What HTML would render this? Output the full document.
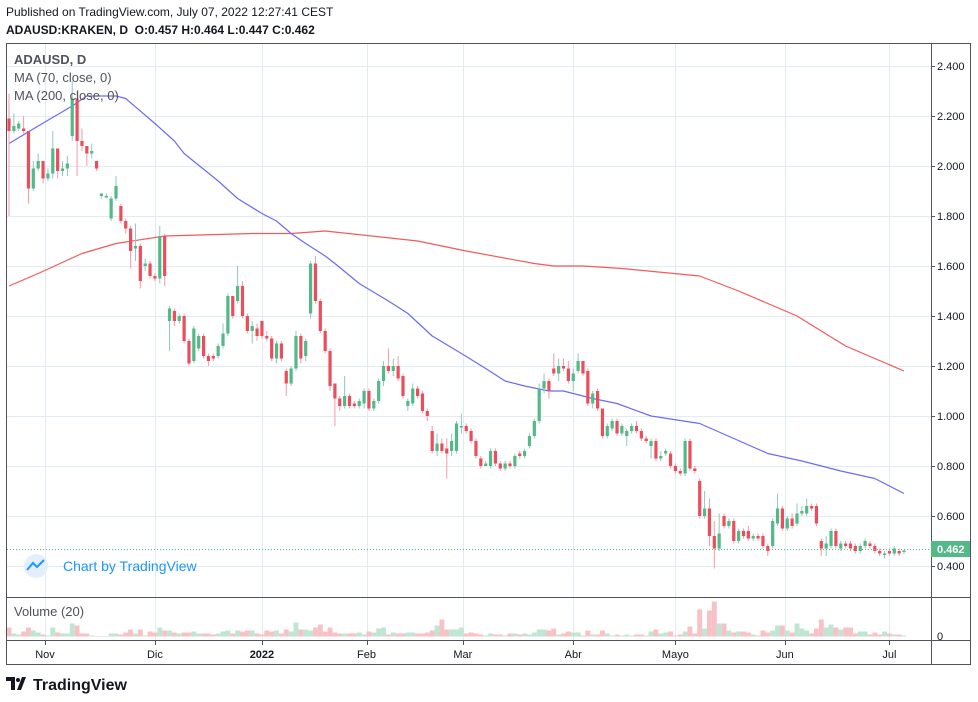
<!DOCTYPE html>
<html>
<head>
<meta charset="utf-8">
<style>
html,body{margin:0;padding:0;background:#fff;}
body{width:978px;height:702px;overflow:hidden;position:relative;font-family:"Liberation Sans",sans-serif;}
.hdr{position:absolute;left:6px;font-size:12px;color:#131722;white-space:nowrap;}
</style>
</head>
<body>
<div class="hdr" style="top:5px;">Published on TradingView.com, July 07, 2022 12:27:41 CEST</div>
<div class="hdr" style="top:23px;font-weight:bold;">ADAUSD:KRAKEN, D &nbsp;O:0.457 H:0.464 L:0.447 C:0.462</div>
<svg id="chart" width="978" height="702" style="position:absolute;left:0;top:0;" xmlns="http://www.w3.org/2000/svg"></svg>
<script>
// ---- data ----
const opens  = [2.19,2.14,2.15,2.15,2.14,1.91,1.99,2.02,1.95,1.97,2.07,1.98,1.99,2.12,2.27,2.10,2.08,2.05,2.02,1.88,1.88,1.79,1.87,1.84,1.78,1.75,1.67,1.68,1.60,1.61,1.56,1.55,1.72,1.38,1.42,1.38,1.40,1.30,1.22,1.27,1.32,1.24,1.24,1.24,1.28,1.33,1.48,1.46,1.52,1.40,1.34,1.35,1.38,1.32,1.31,1.23,1.29,1.18,1.13,1.19,1.32,1.24,1.41,1.61,1.46,1.34,1.26,1.13,1.07,1.04,1.08,1.05,1.04,1.05,1.10,1.03,1.06,1.14,1.20,1.18,1.20,1.16,1.04,1.05,1.11,1.09,1.02,0.94,0.86,0.89,0.87,0.86,0.86,0.96,0.96,0.94,0.90,0.83,0.80,0.80,0.86,0.81,0.79,0.81,0.80,0.85,0.84,0.88,0.92,0.98,1.11,1.14,1.19,1.17,1.20,1.19,1.14,1.18,1.22,1.18,1.05,1.10,1.03,0.92,0.95,0.98,0.93,0.92,0.94,0.96,0.94,0.91,0.88,0.90,0.83,0.85,0.85,0.80,0.78,0.77,0.90,0.79,0.74,0.60,0.63,0.52,0.47,0.60,0.56,0.58,0.50,0.54,0.54,0.51,0.52,0.52,0.48,0.48,0.57,0.63,0.55,0.59,0.57,0.61,0.61,0.64,0.64,0.50,0.47,0.48,0.54,0.47,0.49,0.49,0.48,0.46,0.48,0.49,0.48,0.46,0.45,0.46,0.45,0.46,0.457];
const closes = [2.14,2.16,2.17,2.14,1.91,1.99,2.02,1.95,1.97,2.07,1.98,1.99,2.01,2.27,2.10,2.08,2.05,2.06,1.99,1.89,1.88,1.87,1.92,1.78,1.75,1.66,1.68,1.54,1.61,1.56,1.55,1.72,1.56,1.43,1.38,1.40,1.30,1.21,1.35,1.32,1.24,1.22,1.23,1.28,1.33,1.48,1.40,1.52,1.40,1.34,1.36,1.32,1.32,1.31,1.23,1.29,1.23,1.13,1.19,1.32,1.23,1.30,1.61,1.46,1.34,1.26,1.12,1.07,1.04,1.08,1.04,1.04,1.06,1.10,1.03,1.06,1.14,1.20,1.18,1.20,1.15,1.08,1.06,1.11,1.08,1.02,1.00,0.86,0.89,0.86,0.85,0.90,0.97,0.96,0.94,0.90,0.84,0.80,0.81,0.86,0.81,0.79,0.81,0.80,0.84,0.84,0.86,0.92,0.98,1.11,1.14,1.10,1.17,1.20,1.19,1.14,1.17,1.22,1.17,1.05,1.09,1.03,0.92,0.96,0.98,0.93,0.96,0.94,0.96,0.94,0.91,0.90,0.90,0.83,0.84,0.86,0.80,0.78,0.77,0.90,0.79,0.78,0.60,0.63,0.52,0.47,0.53,0.56,0.58,0.50,0.54,0.52,0.51,0.52,0.51,0.48,0.46,0.58,0.63,0.55,0.59,0.56,0.61,0.62,0.64,0.63,0.57,0.47,0.49,0.54,0.48,0.49,0.48,0.47,0.46,0.48,0.50,0.48,0.46,0.45,0.45,0.45,0.47,0.45,0.462];
const highs  = [2.29,2.21,2.18,2.20,2.14,2.02,2.05,2.02,1.99,2.14,2.07,2.02,2.04,2.34,2.30,2.15,2.08,2.09,2.02,1.89,1.89,1.88,1.96,1.85,1.79,1.76,1.77,1.69,1.63,1.62,1.57,1.76,1.73,1.44,1.43,1.41,1.41,1.31,1.36,1.33,1.33,1.25,1.25,1.29,1.37,1.49,1.48,1.60,1.54,1.41,1.38,1.37,1.38,1.34,1.32,1.30,1.30,1.19,1.20,1.34,1.33,1.31,1.62,1.64,1.47,1.35,1.27,1.13,1.08,1.16,1.09,1.06,1.07,1.11,1.11,1.07,1.15,1.22,1.27,1.23,1.24,1.17,1.07,1.13,1.12,1.10,1.03,0.96,0.93,0.91,0.91,0.93,0.98,1.01,0.97,0.95,0.91,0.84,0.82,0.87,0.87,0.82,0.82,0.82,0.85,0.86,0.87,0.93,0.99,1.13,1.17,1.15,1.25,1.23,1.23,1.22,1.19,1.25,1.22,1.19,1.10,1.11,1.03,0.97,0.99,0.99,0.97,0.95,0.97,0.98,0.95,0.92,0.91,0.91,0.86,0.87,0.86,0.81,0.79,0.91,0.91,0.80,0.75,0.70,0.67,0.58,0.61,0.61,0.59,0.59,0.55,0.55,0.56,0.53,0.53,0.53,0.49,0.59,0.69,0.64,0.60,0.61,0.65,0.64,0.67,0.65,0.65,0.51,0.52,0.55,0.55,0.50,0.50,0.50,0.49,0.49,0.51,0.50,0.49,0.47,0.46,0.47,0.48,0.47,0.464];
const lows   = [1.80,2.13,2.14,2.13,1.85,1.90,1.98,1.93,1.94,1.95,1.95,1.96,1.96,2.10,1.96,2.06,2.00,2.03,1.98,1.87,1.87,1.78,1.86,1.77,1.73,1.59,1.62,1.51,1.58,1.55,1.54,1.53,1.52,1.26,1.36,1.37,1.29,1.20,1.21,1.26,1.23,1.20,1.22,1.23,1.27,1.32,1.39,1.45,1.39,1.33,1.29,1.30,1.31,1.30,1.22,1.21,1.22,1.08,1.12,1.18,1.21,1.22,1.39,1.45,1.33,1.25,1.10,0.96,1.02,1.03,1.03,1.03,1.03,1.03,1.02,1.02,1.05,1.12,1.17,1.16,1.14,1.07,1.02,1.04,1.07,1.01,0.98,0.85,0.84,0.85,0.75,0.84,0.85,0.93,0.93,0.89,0.83,0.79,0.80,0.79,0.80,0.78,0.78,0.79,0.79,0.83,0.83,0.87,0.91,0.97,1.09,1.07,1.16,1.14,1.18,1.13,1.10,1.17,1.16,1.04,1.03,1.02,0.91,0.91,0.94,0.92,0.92,0.88,0.93,0.93,0.90,0.89,0.83,0.82,0.82,0.84,0.79,0.77,0.76,0.76,0.78,0.77,0.59,0.59,0.48,0.39,0.46,0.55,0.55,0.49,0.49,0.51,0.50,0.50,0.50,0.47,0.44,0.47,0.56,0.54,0.54,0.55,0.56,0.60,0.60,0.62,0.56,0.44,0.44,0.47,0.47,0.46,0.47,0.46,0.45,0.45,0.47,0.47,0.45,0.44,0.43,0.44,0.44,0.44,0.447];
const volumes = [9,3,2,5,9,6,4,2,1,9,4,3,3,13,11,3,3,1,0.5,0.5,0.5,3,3,2,4,7,3,7,1,5,4,9,6,6,4,3,4,4,5,3,3,3,2,3,5,6,3,6,5,6,6,3,2,6,5,6,3,7,5,14,7,7,6,9,12,5,9,4,3,3,3,3,4,2,5,4,8,9,2,4,3,3,4,4,3,3,4,6,11,17,7,7,7,9,3,4,3,2,1,3,2,2,1,3,3,2,3,2,4,7,7,6,8,2,3,5,4,4,1,6,2,2,6,3,1,2,1,2,1,2,2,1,5,7,3,4,5,1,2,5,10,3,27,8,26,35,13,13,6,4,5,5,4,2,1,6,4,6,11,11,6,4,13,8,6,3,8,17,9,12,9,7,9,9,3,5,5,2,4,2,5,3,2,2,1];
const ma70Idx = [0,6,13,16,22,24,30,34,36,43,47,52,55,58,61,65,67,72,78,82,87,93,98,102,106,111,114,120,125,132,142,149,156,163,171,178,184];
const ma70Val = [2.09,2.16,2.24,2.28,2.28,2.27,2.17,2.10,2.05,1.94,1.87,1.81,1.78,1.73,1.69,1.64,1.61,1.53,1.46,1.41,1.32,1.25,1.19,1.14,1.12,1.10,1.10,1.07,1.05,1.00,0.97,0.91,0.85,0.82,0.78,0.75,0.69];
const ma200Idx = [0,6,15,22,32,50,58,65,84,94,108,112,118,126,142,150,162,172,184];
const ma200Val = [1.52,1.57,1.65,1.69,1.72,1.73,1.73,1.74,1.70,1.66,1.61,1.60,1.60,1.59,1.56,1.50,1.40,1.28,1.18];
const priceTicks = ["0.400","0.600","0.800","1.000","1.200","1.400","1.600","1.800","2.000","2.200","2.400"];
const monthLabels = ["Nov","Dic","2022","Feb","Mar","Abr","Mayo","Jun","Jul"];
const monthCandleIdx = [7.4,30,52,73.5,93.3,116,137,159.5,181];

const NS="http://www.w3.org/2000/svg";
const svg=document.getElementById('chart');
const X0=9, X1=904, n=opens.length;
const step=(X1-X0)/(n-1);
function xAt(i){return X0+i*step;}
function yP(p){return 566-(p-0.4)*250;}
function yV(v){return 636.5-v;}
function mk(tag,attrs,parent){const e=document.createElementNS(NS,tag);for(const k in attrs)e.setAttribute(k,attrs[k]);(parent||svg).appendChild(e);return e;}

const grid=mk('g',{});


priceTicks.forEach(t=>{const y=Math.round(yP(parseFloat(t)))+0.5;
  const l=mk('line',{x1:7,x2:931,y1:y,y2:y,stroke:'#e1ecf2','stroke-width':1},grid);
  
  
});
monthCandleIdx.forEach(ci=>{const x=Math.round(xAt(ci))+0.5;
  const l=mk('line',{x1:x,x2:x,y1:44,y2:640,stroke:'#e1ecf2','stroke-width':1},grid);
  
  
});

const vg=mk('g',{});


volumes.forEach((v,i)=>{const up=closes[i]>=opens[i];
  const r=mk('rect',{x:xAt(i)-2.45,y:yV(v),width:4.9,height:v,fill:up?'#bfe6d3':'#f8c1c6'},vg);
  
  
});

function maLine(idx,val,color,name){let d='';idx.forEach((ci,k)=>{d+=(k?'L':'M')+xAt(ci).toFixed(1)+','+yP(val[k]).toFixed(1);});
  const p=mk('path',{d:d,fill:'none',stroke:color,'stroke-width':1.2,'stroke-linejoin':'round'});
  
  
}
maLine(ma200Idx,ma200Val,'#f25a5a','ma200-line');
maLine(ma70Idx,ma70Val,'#6b6bf5','ma70-line');

const cg=mk('g',{});


for(let i=0;i<n;i++){const up=closes[i]>=opens[i];const col=up?'#53b987':'#eb4d5c';const wc=up?'#8fc9c0':'#f59aa5';
  const x=xAt(i);
  const w=mk('line',{x1:x,x2:x,y1:yP(highs[i]),y2:yP(lows[i]),stroke:wc,'stroke-width':1},cg);
  
  
  const t=Math.min(yP(opens[i]),yP(closes[i]));const h=Math.max(1.5,Math.abs(yP(opens[i])-yP(closes[i])));
  const b=mk('rect',{x:x-1.6,y:t,width:3.2,height:h,fill:col},cg);
  
  
}

const lp=mk('line',{x1:7,x2:931,y1:549.5,y2:549.5,stroke:'#53b987','stroke-width':1,'stroke-dasharray':'1,2'});



const fr=mk('g',{fill:'none',stroke:'#50535e','stroke-width':1});


mk('rect',{x:6.5,y:43.5,width:964,height:621},fr);
mk('line',{x1:931.5,x2:931.5,y1:43,y2:665},fr);
mk('line',{x1:6,x2:971,y1:597.5,y2:597.5},fr);
mk('line',{x1:6,x2:971,y1:640.5,y2:640.5},fr);

priceTicks.forEach(t=>{const y=yP(parseFloat(t));
  const tx=mk('text',{x:937,y:y+4,'font-size':11,fill:'#131722','font-family':'Liberation Sans, sans-serif'});
  tx.textContent=t;
  
  
  const tk=mk('line',{x1:931,x2:935,y1:Math.round(y)+0.5,y2:Math.round(y)+0.5,stroke:'#50535e'});
  
  
});
const v0=mk('text',{x:937,y:640,'font-size':11,fill:'#131722','font-family':'Liberation Sans, sans-serif'});
v0.textContent='0';



const badge=mk('rect',{x:931,y:541,width:39,height:16,fill:'#53b987'});


const bt=mk('text',{x:937,y:553,'font-size':11,'font-weight':'bold',fill:'#fff','font-family':'Liberation Sans, sans-serif'});
bt.textContent=closes[n-1].toFixed(3);



monthLabels.forEach((m,k)=>{const x=xAt(monthCandleIdx[k]);
  const tk=mk('line',{x1:Math.round(x)+0.5,x2:Math.round(x)+0.5,y1:640,y2:645,stroke:'#50535e'});
  
  
  const tx=mk('text',{x:x,y:658,'font-size':11,'text-anchor':'middle',fill:'#131722','font-weight':m==='2022'?'bold':'normal','font-family':'Liberation Sans, sans-serif'});
  tx.textContent=m;
  
  
});

function txt(x,y,s,attrs,name){const t=mk('text',Object.assign({x:x,y:y,'font-family':'Liberation Sans, sans-serif'},attrs));t.textContent=s;
  
  
  return t;}
txt(14,64,'ADAUSD, D',{'font-size':13,'font-weight':'bold',fill:'#50535e'},'symbol-legend');
txt(14,82,'MA (70, close, 0)',{'font-size':13,fill:'#50535e'},'ma70-legend');
txt(14,100,'MA (200, close, 0)',{'font-size':13,fill:'#50535e'},'ma200-legend');
txt(14,616,'Volume (20)',{'font-size':13,fill:'#50535e'},'volume-legend');
txt(63,571,'Chart by TradingView',{'font-size':14,fill:'#2196f3'},'chart-by-tradingview');
const logo=mk('g',{});


mk('circle',{cx:36,cy:566,r:12,fill:'#e3effd'},logo);
mk('path',{d:'M27,570 L33,563 L37,567 L44,560',fill:'none',stroke:'#2196f3','stroke-width':2},logo);
const bl=mk('g',{});


mk('path',{d:'M6,677 h9 v13 h-4 v-9 h-5z M17,690 l5,-13 h4 l-5,13z',fill:'#131722'},bl);
mk('circle',{cx:18,cy:680,r:2,fill:'#131722'},bl);
const blt=mk('text',{x:33,y:690,'font-size':16,'font-weight':'bold',fill:'#131722','font-family':'Liberation Sans, sans-serif'},bl);
blt.textContent='TradingView';
</script>
</body>
</html>
